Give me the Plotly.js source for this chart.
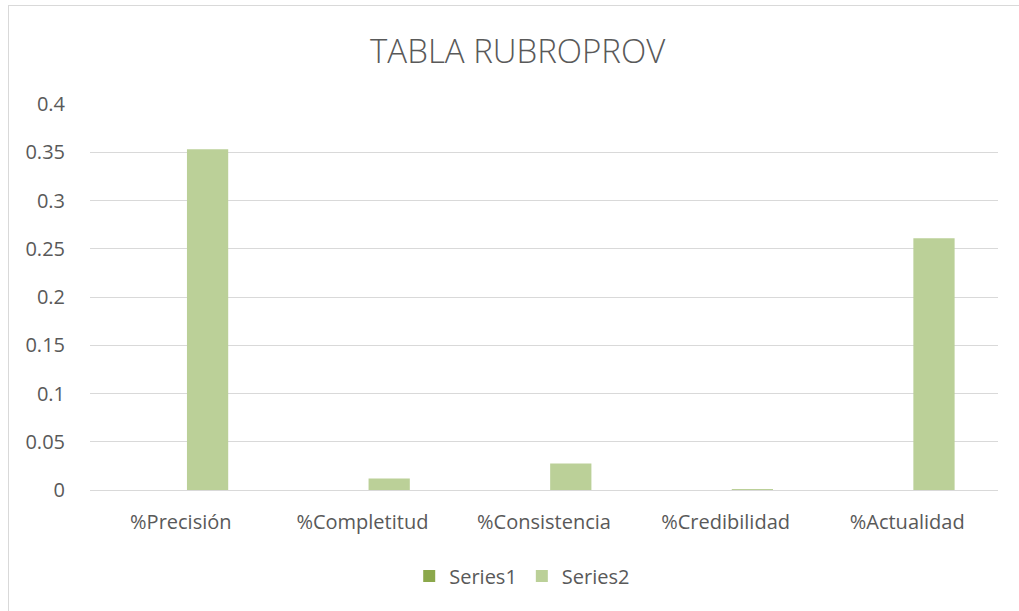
<!DOCTYPE html>
<html>
<head>
<meta charset="utf-8">
<script src="https://cdn.plot.ly/plotly-3.0.1.min.js"></script>
<style>
  html, body { margin: 0; padding: 0; background: #fff; }
  #wrap { position: relative; width: 1019px; height: 611px; overflow: hidden; }
  #chart { position: absolute; left: 0; top: 0; width: 1019px; height: 611px; }
  #frame { position: absolute; left: 8px; top: 5px; width: 1100px; height: 700px;
           border: 1px solid #d9d9d9; box-sizing: border-box; pointer-events: none; }
</style>
</head>
<body>
<div id="wrap">
  <div id="chart"></div>
  <div id="frame"></div>
</div>
<script>
const categories = ['%Precisión', '%Completitud', '%Consistencia', '%Credibilidad', '%Actualidad'];
const series1 = [0, 0, 0, 0, 0];
const series2 = [0.353, 0.0118, 0.0275, 0.001, 0.261];
const yTicks = [0, 0.05, 0.1, 0.15, 0.2, 0.25, 0.3, 0.35, 0.4];
const yTickText = ['0', '0.05', '0.1', '0.15', '0.2', '0.25', '0.3', '0.35', '0.4'];

const FONT = '"Open Sans", Lato, sans-serif';
const TXT = '#595959';

const traces = [
  { type: 'bar', name: 'Series1', x: categories, y: series1,
    marker: { color: '#8BA84B' }, hoverinfo: 'x+y' },
  { type: 'bar', name: 'Series2', x: categories, y: series2,
    marker: { color: '#BBD098' }, hoverinfo: 'x+y' }
];

const layout = {
  width: 1019, height: 611,
  margin: { l: 90, r: 21, t: 104, b: 121 },
  paper_bgcolor: 'rgba(0,0,0,0)', plot_bgcolor: '#fff',
  barmode: 'group', bargap: 0.41, bargroupgap: 0.23,
  font: { family: FONT, color: TXT, size: 20 },
  title: { text: 'TABLA RUBROPROV', font: { family: FONT, size: 33, color: TXT, weight: 300 },
           x: 0.508, xanchor: 'center', y: 1 - 51 / 611, yanchor: 'middle', yref: 'container' },
  xaxis: { type: 'category', showgrid: false, showline: false, zeroline: false,
           ticks: 'outside', ticklen: 14, tickcolor: 'rgba(0,0,0,0)',
           tickfont: { family: FONT, size: 20, color: TXT } },
  yaxis: { range: [0, 0.4], tickvals: yTicks, ticktext: yTickText,
           showgrid: true, gridcolor: '#d9d9d9', gridwidth: 1,
           zeroline: true, zerolinecolor: '#d9d9d9', zerolinewidth: 1,
           showline: false, ticks: 'outside', ticklen: 20, tickcolor: 'rgba(0,0,0,0)',
           tickfont: { family: FONT, size: 20, color: TXT } },
  showlegend: true,
  legend: { orientation: 'h', x: 0.476, xanchor: 'center', y: -0.223, yanchor: 'middle',
            font: { family: FONT, size: 20, color: TXT }, itemclick: false },
};

Plotly.newPlot('chart', traces, layout, { displayModeBar: false, staticPlot: true });
</script>
</body>
</html>
